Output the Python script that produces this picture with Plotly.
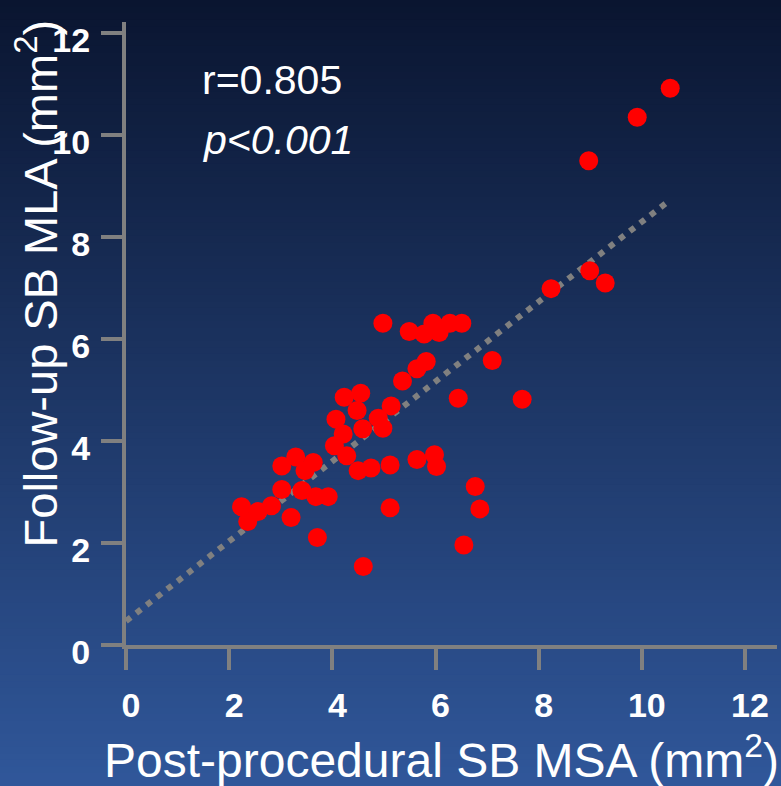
import plotly.graph_objects as go
import numpy as np

# Post-procedural SB MSA (mm^2)
msa = [10.55, 9.91, 8.97, 8.99, 9.29, 8.24, 7.10, 7.68, 6.44, 5.82,
       5.64, 5.36, 4.98, 5.49, 5.78, 5.95, 6.07, 6.28, 6.51, 4.23,
       4.55, 4.48, 5.14, 4.07, 4.89, 4.59, 4.98, 4.21, 4.04, 4.28,
       4.50, 4.75, 5.12, 5.64, 5.98, 6.02, 6.77, 6.86, 6.55, 4.60,
       5.12, 3.71, 3.20, 3.02, 3.29, 3.63, 3.47, 3.02, 3.41, 3.68,
       3.92, 2.24, 2.56, 2.82, 2.36]
# Follow-up SB MLA (mm^2)
mla = [10.92, 10.35, 9.50, 7.34, 7.10, 6.99, 5.58, 4.82, 4.84, 5.56,
       5.42, 5.18, 6.31, 6.15, 6.10, 6.31, 6.13, 6.31, 6.31, 4.86,
       4.94, 4.60, 4.69, 4.43, 4.45, 4.24, 4.25, 4.14, 3.91, 3.71,
       3.42, 3.47, 3.53, 3.64, 3.73, 3.50, 3.11, 2.67, 1.96, 1.54,
       2.69, 2.11, 2.50, 3.51, 3.69, 3.58, 3.42, 3.05, 3.03, 2.91,
       2.91, 2.71, 2.62, 2.73, 2.42]

# Regression line as drawn
fit_x = [0.0, 10.48]
fit_intercept = 0.47
fit_slope = 0.783

tick_vals = [0, 2, 4, 6, 8, 10, 12]
tick_text = ["0", "2", "4", "6", "8", "10", "12"]

x_title = "Post-procedural SB MSA (mm<sup>2</sup>)"
y_title = "Follow-up SB MLA (mm<sup>2</sup>)"
r_text = "r=0.805"
p_text = "<i>p&lt;0.001</i>"

FONT = "Arial, Liberation Sans, sans-serif"
AXIS_GRAY = "#808080"

fig = go.Figure()

fit_y = [fit_intercept + fit_slope * v for v in fit_x]
fig.add_trace(go.Scatter(x=fit_x, y=fit_y, mode="lines",
                         line=dict(color=AXIS_GRAY, width=6, dash="6px,7px"),
                         hoverinfo="skip", showlegend=False))
fig.add_trace(go.Scatter(x=msa, y=mla, mode="markers",
                         marker=dict(color="#ff0000", size=19, line=dict(width=0)),
                         showlegend=False))

# gradient background built from thin horizontal strips (paper coords)
W, H = 781, 786
ml, mr, mt, mb = 126, 4, 22, 141
pw, ph = W - ml - mr, H - mt - mb
top_rgb = np.array([10, 21, 48])
bot_rgb = np.array([48, 87, 154])
n = 120
shapes = []
for i in range(n):
    y0_px = H * i / n
    y1_px = H * (i + 1) / n + 1
    t = (i + 0.5) / n
    c = (top_rgb * (1 - t) + bot_rgb * t).round().astype(int)
    shapes.append(dict(type="rect", xref="paper", yref="paper", layer="below",
                       x0=-ml / pw - 0.01, x1=1 + mr / pw + 0.01,
                       y0=(H - mb - y1_px) / ph, y1=(H - mb - y0_px) / ph,
                       line=dict(width=0),
                       fillcolor=f"rgb({c[0]},{c[1]},{c[2]})"))

axis_common = dict(showline=True, linecolor=AXIS_GRAY, linewidth=4,
                   ticks="outside", ticklen=21, tickwidth=4, tickcolor=AXIS_GRAY,
                   showgrid=False, zeroline=False,
                   tickvals=tick_vals, ticktext=tick_text,
                   tickfont=dict(family=FONT, size=34, color="white", weight="bold"))

fig.update_layout(
    width=W, height=H,
    margin=dict(l=ml, r=mr, t=mt, b=mb, pad=0),
    paper_bgcolor="rgb(30,55,105)", plot_bgcolor="rgba(0,0,0,0)",
    shapes=shapes,
    xaxis=dict(range=[0, 12.62], ticklabelstandoff=6, ticklabelshift=5, **axis_common),
    yaxis=dict(range=[0, 12.22], ticklabelstandoff=4, ticklabelshift=7, **axis_common),
    annotations=[
        dict(text=x_title, xref="paper", yref="paper", x=0.484, y=-0.18,
             showarrow=False, xanchor="center", yanchor="middle",
             font=dict(family=FONT, size=48, color="white")),
        dict(text=y_title, xref="paper", yref="paper", x=-0.137, y=0.58,
             showarrow=False, xanchor="center", yanchor="middle", textangle=-90,
             font=dict(family=FONT, size=47, color="white")),
        dict(text=r_text, xref="x", yref="y", x=1.43, y=11.08,
             showarrow=False, xanchor="left", yanchor="middle",
             font=dict(family=FONT, size=41, color="white")),
        dict(text=p_text, xref="x", yref="y", x=1.43, y=9.9,
             showarrow=False, xanchor="left", yanchor="middle",
             font=dict(family=FONT, size=41, color="white")),
    ],
)

fig.write_html("out.html",
               config={"displayModeBar": False},
               post_script="document.body.style.margin='0';document.body.style.overflow='hidden';")
